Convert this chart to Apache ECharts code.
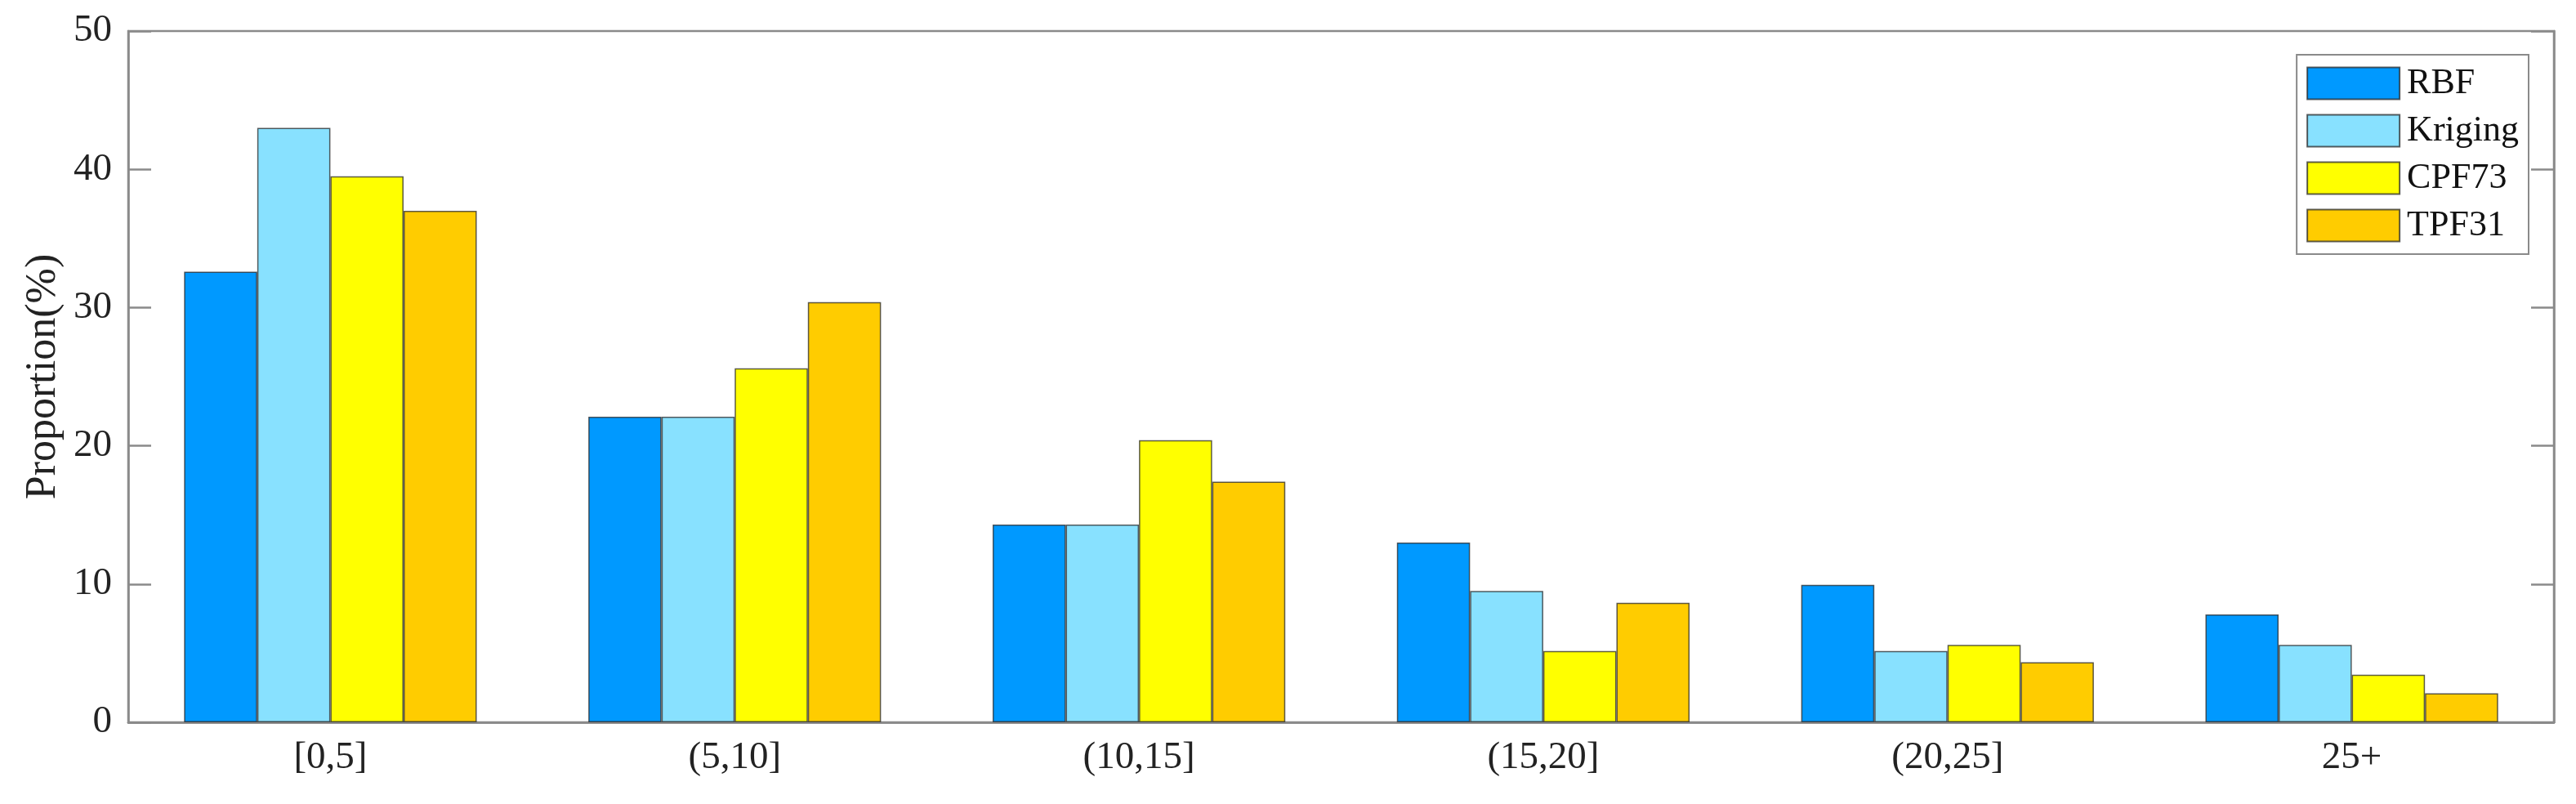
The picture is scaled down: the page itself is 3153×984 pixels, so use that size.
<!DOCTYPE html>
<html>
<head>
<meta charset="utf-8">
<title>Proportion by error interval</title>
<script src="https://cdn.jsdelivr.net/npm/echarts@6/dist/echarts.min.js"></script>
<style>
  html, body { margin: 0; padding: 0; background: #fff; }
  #chart { width: 3153px; height: 984px; }
</style>
</head>
<body>
<div id="chart"></div>
<script>
// data
const categories = ["[0,5]", "(5,10]", "(10,15]", "(15,20]", "(20,25]", "25+"];
const seriesNames = ["RBF", "Kriging", "CPF73", "TPF31"];
const rbf = [32.6, 22.1, 14.3, 13.0, 9.95, 7.8];
const kriging = [43.0, 22.1, 14.3, 9.5, 5.15, 5.6];
const cpf73 = [39.5, 25.6, 20.4, 5.15, 5.6, 3.45];
const tpf31 = [37.0, 30.4, 17.4, 8.65, 4.35, 2.1];
const yTicks = [0, 10, 20, 30, 40, 50];

const colors = ["#0099FF", "#88E1FF", "#FFFF00", "#FFCC00"];
const font = "Liberation Serif";
const axisGray = "#8a8a8a";

const chart = echarts.init(document.getElementById("chart"));

const makeBar = (name, data, color) => ({
  name: name,
  type: "bar",
  data: data,
  barGap: "0%",
  barCategoryGap: "27.6%",
  itemStyle: {
    color: color,
    borderColor: "rgba(40,40,40,0.75)",
    borderWidth: 1.5,
  },
});

chart.setOption({
  animation: false,
  grid: {
    left: 157,
    right: 27,
    top: 38,
    bottom: 100,
    show: true,
    borderColor: axisGray,
    borderWidth: 2.5,
  },
  legend: {
    orient: "vertical",
    right: 58,
    top: 67,
    data: seriesNames,
    icon: "rect",
    itemWidth: 113,
    itemHeight: 39,
    itemGap: 14,
    padding: [13, 12, 13, 12],
    borderColor: axisGray,
    borderWidth: 2,
    backgroundColor: "#fff",
    textStyle: {
      fontFamily: font,
      fontSize: 44,
      color: "#111",
      padding: [0, 0, 0, 4],
    },
  },
  xAxis: [
    {
      type: "category",
      data: categories,
      axisLine: { lineStyle: { color: axisGray, width: 2.5 } },
      axisTick: {
        inside: true,
        alignWithLabel: true,
        length: 28,
        lineStyle: { color: axisGray, width: 2.5 },
      },
      axisLabel: {
        fontFamily: font,
        fontSize: 47,
        color: "#222",
        margin: 20,
      },
    },
    {
      type: "category",
      position: "top",
      data: categories,
      axisLine: { lineStyle: { color: axisGray, width: 2.5 } },
      axisTick: {
        inside: true,
        alignWithLabel: true,
        length: 28,
        lineStyle: { color: axisGray, width: 2.5 },
      },
      axisLabel: { show: false },
    },
  ],
  yAxis: [
    {
      type: "value",
      min: yTicks[0],
      max: yTicks[yTicks.length - 1],
      interval: 10,
      name: "Proportion(%)",
      nameLocation: "middle",
      nameGap: 78,
      nameTextStyle: {
        fontFamily: font,
        fontSize: 52,
        color: "#222",
      },
      axisLine: { show: true, lineStyle: { color: axisGray, width: 2.5 } },
      axisTick: {
        show: true,
        inside: true,
        length: 28,
        lineStyle: { color: axisGray, width: 2.5 },
      },
      splitLine: { show: false },
      axisLabel: {
        fontFamily: font,
        fontSize: 47,
        color: "#222",
        margin: 20,
      },
    },
    {
      type: "value",
      position: "right",
      min: yTicks[0],
      max: yTicks[yTicks.length - 1],
      interval: 10,
      axisLine: { show: true, lineStyle: { color: axisGray, width: 2.5 } },
      axisTick: {
        show: true,
        inside: true,
        length: 28,
        lineStyle: { color: axisGray, width: 2.5 },
      },
      splitLine: { show: false },
      axisLabel: { show: false },
    },
  ],
  series: [
    makeBar(seriesNames[0], rbf, colors[0]),
    makeBar(seriesNames[1], kriging, colors[1]),
    makeBar(seriesNames[2], cpf73, colors[2]),
    makeBar(seriesNames[3], tpf31, colors[3]),
  ],
});
</script>
</body>
</html>
